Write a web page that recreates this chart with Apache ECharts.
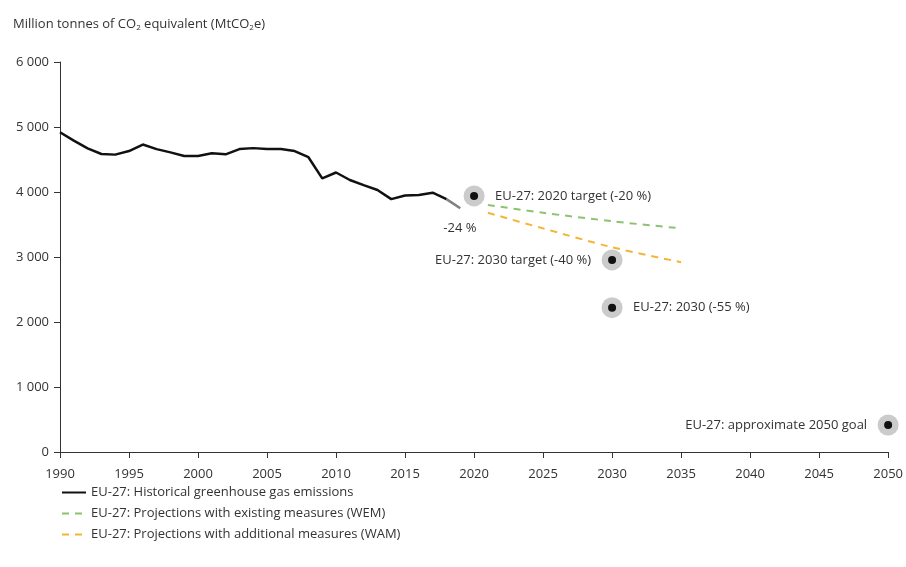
<!DOCTYPE html>
<html>
<head>
<meta charset="utf-8">
<script src="https://cdn.jsdelivr.net/npm/echarts@6/dist/echarts.min.js"></script>
<style>
html,body{margin:0;padding:0;background:#fff;}
#chart{width:906px;height:567px;}
</style>
</head>
<body>
<div id="chart"></div>
<script>
// ---- Data ----
const histYears = [1990,1991,1992,1993,1994,1995,1996,1997,1998,1999,2000,2001,2002,2003,2004,2005,2006,2007,2008,2009,2010,2011,2012,2013,2014,2015,2016,2017,2018];
const histValues = [4920,4790,4670,4585,4575,4630,4730,4660,4610,4555,4555,4595,4580,4660,4675,4660,4660,4630,4535,4210,4300,4185,4105,4030,3890,3945,3955,3990,3890];
const proxyYears = [2018,2019];
const proxyValues = [3890,3750];
const wemYears = [2021,2025,2030,2035];
const wemValues = [3800,3680,3550,3440];
const wamYears = [2021,2025,2030,2035];
const wamValues = [3680,3440,3150,2920];
const targetYears = [2020,2030,2030,2050];
const targetValues = [3940,2955,2220,415];
const targetLabels = ['EU-27: 2020 target (-20 %)','EU-27: 2030 target (-40 %)','EU-27: 2030 (-55 %)','EU-27: approximate 2050 goal'];
const targetLabelSide = ['right','left','right','left'];
const legendNames = ['EU-27: Historical greenhouse gas emissions','EU-27: Projections with existing measures (WEM)','EU-27: Projections with additional measures (WAM)'];
const proxyNote = '-24 %';

const FONT = '"Open Sans", sans-serif';
const TXT = '#333';

const zip = (xs, ys) => xs.map((x, i) => [x, ys[i]]);

const chart = echarts.init(document.getElementById('chart'));
chart.setOption({
  animation: false,
  textStyle: { fontFamily: FONT, color: TXT },
  title: {
    text: '{a|Million tonnes of CO}{s|2}{a| equivalent (MtCO}{s|2}{a|e)}',
    left: 8, top: 12,
    textStyle: {
      fontWeight: 'normal',
      rich: {
        a: { fontFamily: FONT, fontSize: 13, fontWeight: 'normal', color: TXT },
        s: { fontFamily: FONT, fontSize: 8, fontWeight: 'normal', color: TXT, verticalAlign: 'bottom', padding: [7,0,0,0] }
      }
    }
  },
  grid: { left: 60, right: 17, top: 62, bottom: 115, containLabel: false },
  legend: {
    orient: 'vertical', left: 56, top: 481, itemGap: 8,
    itemWidth: 24, itemHeight: 14,
    data: legendNames,
    itemStyle: { opacity: 0 },
    textStyle: { fontFamily: FONT, fontSize: 13, color: TXT }
  },
  xAxis: {
    type: 'value', min: 1990, max: 2050, interval: 5,
    axisLine: { show: true, lineStyle: { color: '#333', width: 1 } },
    axisTick: { show: true, length: 6, lineStyle: { color: '#333' } },
    splitLine: { show: false },
    axisLabel: { formatter: v => String(v), fontFamily: FONT, fontSize: 13, color: TXT, margin: 16 }
  },
  yAxis: {
    type: 'value', min: 0, max: 6000, interval: 1000,
    axisLine: { show: true, lineStyle: { color: '#333', width: 1 } },
    axisTick: { show: true, length: 6, lineStyle: { color: '#333' } },
    splitLine: { show: false },
    axisLabel: { formatter: v => String(v).replace(/\B(?=(\d{3})+(?!\d))/g, ' '), fontFamily: FONT, fontSize: 13, color: TXT, margin: 11 }
  },
  series: [
    {
      name: legendNames[0], type: 'line', data: zip(histYears, histValues),
      showSymbol: false, symbol: 'none', color: '#111',
      lineStyle: { color: '#111', width: 2.5 }, z: 5
    },
    {
      name: 'proxy', type: 'line', data: zip(proxyYears, proxyValues),
      showSymbol: false, symbol: 'none',
      lineStyle: { color: '#808080', width: 2.5 }, z: 4,
      endLabel: { show: true, formatter: proxyNote, offset: [-25, 20], fontFamily: FONT, fontSize: 13, color: TXT }
    },
    {
      name: legendNames[1], type: 'line', data: zip(wemYears, wemValues),
      showSymbol: false, symbol: 'none', smooth: 0.3, color: '#8dc26f',
      lineStyle: { color: '#8dc26f', width: 2, type: [7, 6] }
    },
    {
      name: legendNames[2], type: 'line', data: zip(wamYears, wamValues),
      showSymbol: false, symbol: 'none', smooth: 0.3, color: '#f2b634',
      lineStyle: { color: '#f2b634', width: 2, type: [7, 6] }
    },
    {
      name: 'targetHalo', type: 'scatter',
      data: zip(targetYears, targetValues),
      symbolSize: 21, itemStyle: { color: '#cbcbcb', opacity: 1 }, z: 6, silent: true
    },
    {
      name: 'targets', type: 'scatter',
      data: targetYears.map((y, i) => ({
        value: [y, targetValues[i]],
        label: {
          show: true, formatter: targetLabels[i], position: targetLabelSide[i],
          distance: 17, fontFamily: FONT, fontSize: 13, color: TXT
        }
      })),
      symbolSize: 8, itemStyle: { color: '#111', opacity: 1 }, z: 7
    }
  ]
});
</script>
</body>
</html>
